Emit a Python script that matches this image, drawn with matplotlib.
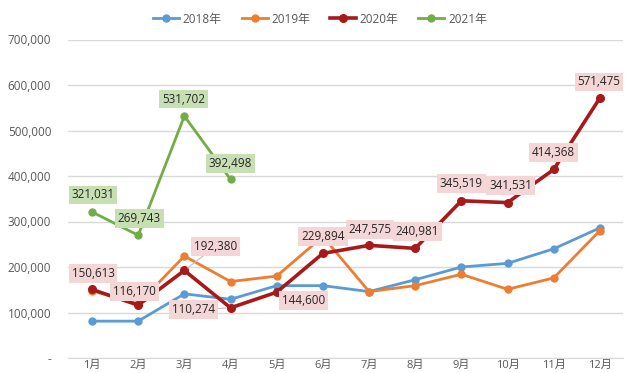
import matplotlib
matplotlib.use("Agg")
import matplotlib.pyplot as plt
from matplotlib.ticker import FuncFormatter

plt.rcParams['font.family'] = ['Open Sans', 'Noto Sans CJK SC', 'DejaVu Sans']

months = ["1月", "2月", "3月", "4月", "5月", "6月", "7月", "8月", "9月", "10月", "11月", "12月"]
series_names = ["2018年", "2019年", "2020年", "2021年"]
v2018 = [81000, 81000, 141000, 129000, 159000, 159000, 146000, 172000, 200000, 208000, 240000, 286000]
v2019 = [148000, 119000, 224000, 168000, 180000, 267000, 146000, 159000, 184000, 151000, 176000, 280000]
v2020 = [150613, 116170, 192380, 110274, 144600, 229894, 247575, 240981, 345519, 341531, 414368, 571475]
v2021 = [321031, 269743, 531702, 392498]
yticks = [0, 100000, 200000, 300000, 400000, 500000, 600000, 700000]

# label offsets (pixels) - styling only
off2020 = [(1, 16), (-4, 14), (31, 24), (-37, -2), (27, -8), (0, 17),
           (1, 16), (2, 17), (0, 17), (3, 17), (0, 17), (-1, 16)]
off2021 = [(1, 17), (1, 17), (-1, 17), (0, 16)]

colors = ["#5b9bd5", "#ed7d31", "#a81a1a", "#70ad47"]

fig = plt.figure(figsize=(6.4, 3.73), dpi=100)
ax = fig.add_axes([68/640, 15/373, (623-68)/640, (358-39.5)/373])

x = list(range(1, 13))
ax.plot(x, v2018, color=colors[0], lw=2, marker='o', ms=5, zorder=3, label=series_names[0])
ax.plot(x, v2019, color=colors[1], lw=2, marker='o', ms=5, zorder=3, label=series_names[1])
ax.plot(x, v2020, color=colors[2], lw=2.6, marker='o', ms=5.5, zorder=4, label=series_names[2])
ax.plot(x[:len(v2021)], v2021, color=colors[3], lw=2, marker='o', ms=5, zorder=4, label=series_names[3])

lab_kw = dict(textcoords='offset pixels', ha='center', va='center', fontsize=8.4,
              color='#262626', zorder=6)
for i, (v, o) in enumerate(zip(v2020, off2020)):
    arrow = None
    if i in (2, 3):
        arrow = dict(arrowstyle='-', color='#bfbfbf', lw=0.8, shrinkA=0, shrinkB=3)
    ax.annotate(f"{v:,}", (x[i], v), xytext=o,
                bbox=dict(boxstyle='square,pad=0.25', fc='#f4d6d6', ec='none'),
                arrowprops=arrow, **lab_kw)
for i, (v, o) in enumerate(zip(v2021, off2021)):
    ax.annotate(f"{v:,}", (x[i], v), xytext=o,
                bbox=dict(boxstyle='square,pad=0.25', fc='#c6e0b4', ec='none'), **lab_kw)

ax.set_xlim(0.48, 12.5)
ax.set_ylim(0, 700000)
ax.set_yticks(yticks)
ax.yaxis.set_major_formatter(FuncFormatter(lambda v, p: "-" if v == 0 else f"{int(v):,}"))
ax.set_xticks(x)
ax.set_xticklabels(months)
ax.grid(axis='y', color='#d9d9d9', lw=1)
ax.set_axisbelow(True)
for s in ['top', 'right', 'left']:
    ax.spines[s].set_visible(False)
ax.spines['bottom'].set_color('#d9d9d9')
ax.tick_params(axis='both', length=0, colors='#595959', labelsize=8.5)
ax.tick_params(axis='y', pad=12)
ax.tick_params(axis='x', pad=1.5, labelsize=8)

fig.legend(loc='center', bbox_to_anchor=(0.5, 1 - 19/373), ncol=4, frameon=False,
           fontsize=8.5, labelcolor='#595959', handlelength=2.2, columnspacing=1.7,
           handletextpad=0.3)

fig.savefig("out.png", dpi=100)
